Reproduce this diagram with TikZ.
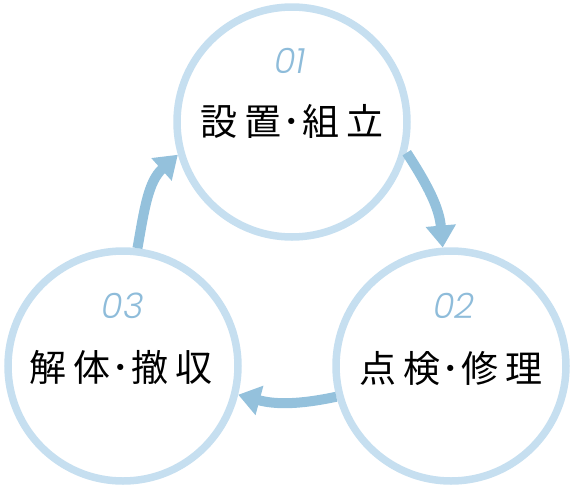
\documentclass[tikz,border=0pt]{standalone}
\usepackage{fontspec}
\usetikzlibrary{arrows.meta}
\newfontfamily\jpfont{Noto Sans CJK JP}
\newfontfamily\numfont{Poppins Light Italic}
\definecolor{ringc}{HTML}{C6DFF0}
\definecolor{arrowc}{HTML}{94C1DC}
\definecolor{numc}{HTML}{8EBCDA}
\newcommand\gapk{\kern7pt}
\newcommand\dotk{\kern1.5pt}
\begin{document}
\begin{tikzpicture}[x=1pt,y=-1pt,
  ring/.style={circle,draw=ringc,line width=7.5pt,fill=white,minimum size=230pt,inner sep=0pt},
  num/.style={font=\numfont\fontsize{35}{35}\selectfont,text=numc,inner sep=0pt},
  lab/.style={font=\jpfont\fontsize{37}{37}\selectfont,text=black,inner sep=0pt},
  flow/.style={draw=arrowc,line width=10pt,-{Triangle[width=29pt,length=22pt]}}]
\useasboundingbox (0,0) rectangle (573,491);
\node[ring] (c1) at (292,122) {};
\node[ring] (c2) at (451,366) {};
\node[ring] (c3) at (123,366) {};
\node[num] (n1) at (290,61) {01};
\node[num] (n2) at (454,306) {02};
\node[num] (n3) at (123,306) {03};
\node[lab] (l1) at (292,121) {設\gapk 置\dotk ･\dotk 組\gapk 立};
\node[lab] (l2) at (451,369) {点\gapk 検\dotk ･\dotk 修\gapk 理};
\node[lab] (l3) at (121,367) {解\gapk 体\dotk ･\dotk 撤\gapk 収};
\draw[flow] (c1.-15) to[out=-57,in=95] (c2.94);
\draw[flow] (c2.195) to[out=192,in=-15] (c3.-14);
\draw[flow] (c3.83) to[out=80,in=222] (c1.196);
\end{tikzpicture}
\end{document}
